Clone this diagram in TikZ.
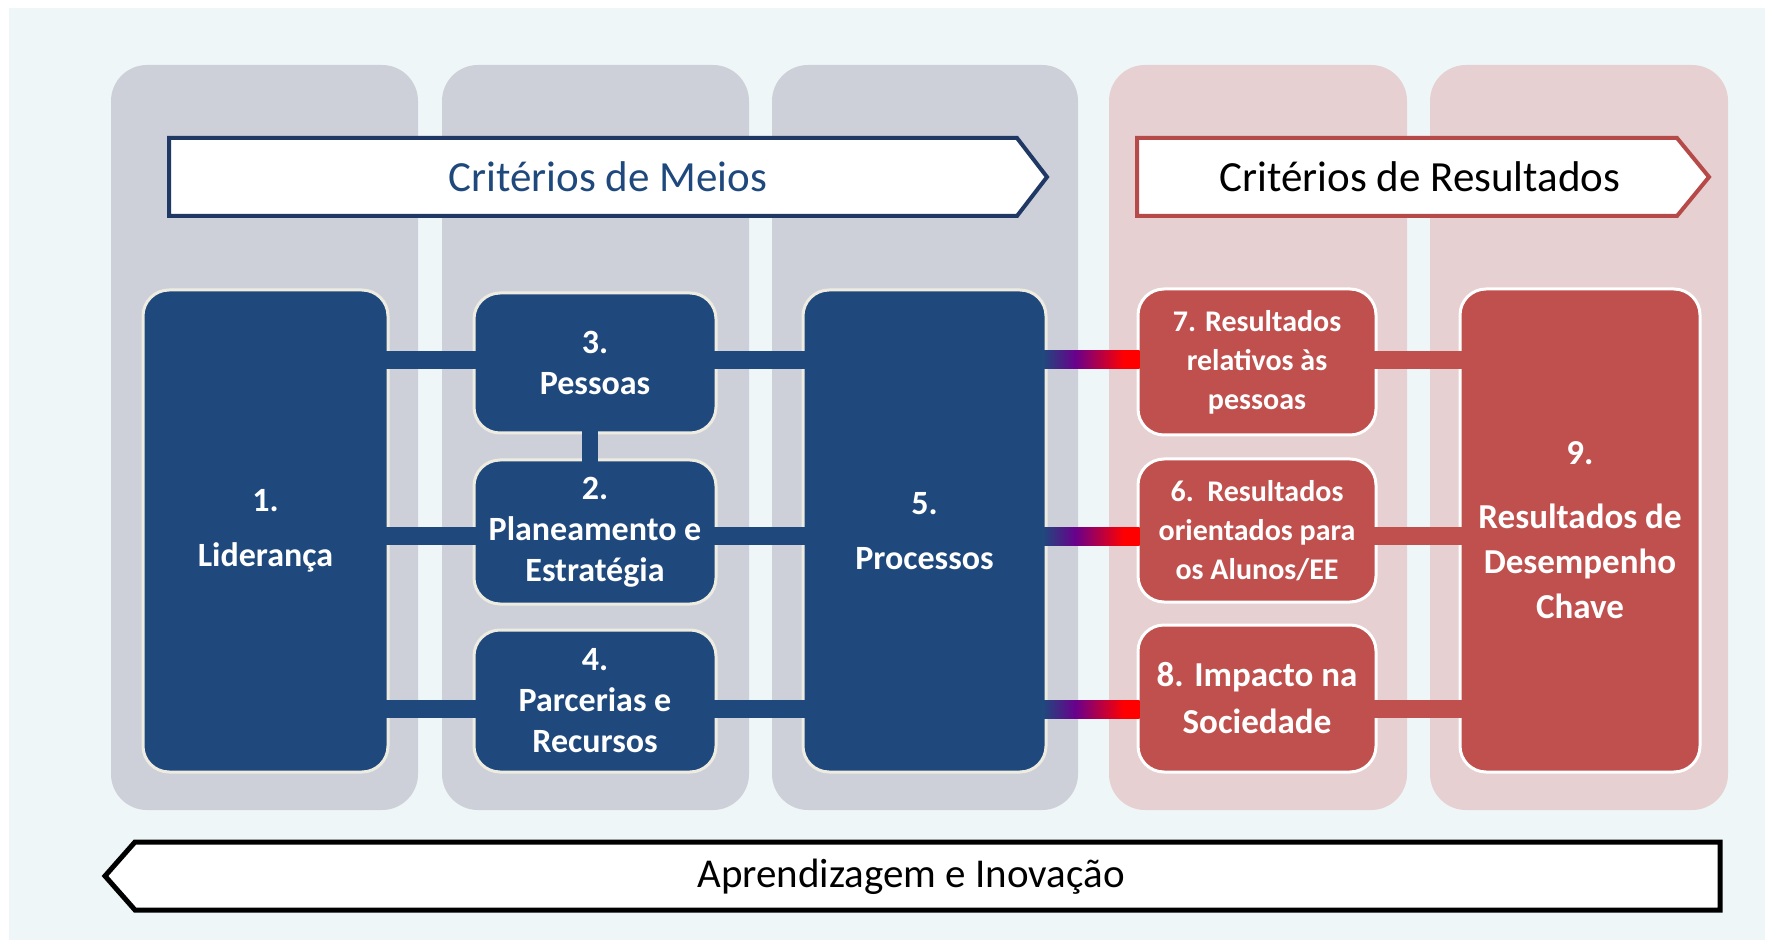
\documentclass[tikz,border=0pt]{standalone}
\usepackage{fontspec}
\setmainfont{Carlito}
\usetikzlibrary{calc}
\definecolor{bgc}{RGB}{238,246,248}
\definecolor{panelg}{RGB}{205,208,217}
\definecolor{panelp}{RGB}{230,208,209}
\definecolor{dblue}{RGB}{31,73,125}
\definecolor{dred}{RGB}{192,80,77}
\definecolor{cream}{RGB}{238,236,225}
\definecolor{navy}{RGB}{31,56,100}
\definecolor{arrred}{RGB}{182,74,72}
\definecolor{cpurple}{RGB}{106,0,140}
\definecolor{cred}{RGB}{255,0,0}
\pgfdeclarehorizontalshading{connshade}{100bp}{color(0bp)=(dblue); color(25bp)=(dblue); color(42bp)=(cpurple); color(67bp)=(cred); color(100bp)=(cred)}
\tikzset{
  panelbox/.style={rounded corners=18pt, inner sep=0pt, minimum height=372.5pt},
  greypanel/.style={panelbox, fill=panelg},
  pinkpanel/.style={panelbox, fill=panelp},
  bluebox/.style={draw=cream, line width=1.5pt, fill=dblue, rounded corners=13pt, text=white,
    font=\bfseries\fontsize{17}{20.5}\selectfont, align=center, inner sep=0pt},
  redbox/.style={draw=white, line width=1.5pt, fill=dred, rounded corners=13pt, text=white,
    font=\bfseries\fontsize{17}{20.5}\selectfont, align=center, inner sep=0pt},
  bconn/.style={draw=dblue, line width=9pt},
  rconn/.style={draw=dred, line width=9pt},
  headtext/.style={inner sep=0pt, font=\fontsize{21.5}{26}\selectfont},
}
\begin{document}
\begin{tikzpicture}[x=0.5pt, y=-0.5pt]
\useasboundingbox (0,0) rectangle (1765,940);
\fill[white] (0,0) rectangle (1765,940);
\fill[bgc] (9,8) rectangle (1765,940);

% panels
\node[greypanel, minimum width=153.5pt] (p1) at (264.5,437.5) {};
\node[greypanel, minimum width=153.5pt] (p2) at (595.5,437.5) {};
\node[greypanel, minimum width=153pt] (p3) at (925,437.5) {};
\node[pinkpanel, minimum width=149pt] (p4) at (1258,437.5) {};
\node[pinkpanel, minimum width=149pt] (p5) at (1579,437.5) {};

% top arrows
\draw[draw=navy, line width=2pt, fill=white] (169,138) -- (1017,138) -- (1047,177) -- (1017,216) -- (169,216) -- cycle;
\node[headtext, text=dblue] (tmeios) at (608,177) {Critérios de Meios};
\draw[draw=arrred, line width=2pt, fill=white] (1137,138) -- (1677,138) -- (1709,177) -- (1677,216) -- (1137,216) -- cycle;
\node[headtext, text=black] (tres) at (1420,177) {Critérios de Resultados};

% boxes
\node[bluebox, minimum width=122.5pt, minimum height=241pt] (b1) at (265.5,531) {1.\\[7pt]Liderança};
\node[bluebox, minimum width=121pt, minimum height=70pt] (b3) at (595,363) {3.\\Pessoas};
\node[bluebox, minimum width=121pt, minimum height=72pt] (b2) at (595,532) {2.\\Planeamento e\\Estratégia};
\node[bluebox, minimum width=121pt, minimum height=71pt] (b4) at (595,701) {4.\\Parcerias e\\Recursos};
\node[bluebox, minimum width=121.5pt, minimum height=241pt] (b5) at (924.5,531) {5.\\[7pt]Processos};
\node[redbox, minimum width=119pt, minimum height=73pt, font=\bfseries\fontsize{15}{19.5}\selectfont] (b7) at (1257,362) {7. Resultados\\relativos às\\pessoas};
\node[redbox, minimum width=119pt, minimum height=71.5pt, font=\bfseries\fontsize{15}{19.5}\selectfont] (b6) at (1257,530.5) {6.\ \ Resultados\\orientados para\\os Alunos/EE};
\node[redbox, minimum width=119pt, minimum height=73.5pt, font=\bfseries\fontsize{17.5}{23.5}\selectfont] (b8) at (1257,698.5) {8. Impacto na\\Sociedade};
\node[redbox, minimum width=120pt, minimum height=241.5pt, font=\bfseries\fontsize{17.5}{22.5}\selectfont] (b9) at (1580,530.5) {9.\\[9.5pt]Resultados de\\Desempenho\\Chave};

% connector rows
\coordinate (ya) at (0,360);
\coordinate (yb) at (0,536);
\coordinate (yc) at (0,709);

\draw[bconn] ([xshift=-2.5pt]b1.east|-ya) -- ([xshift=2.5pt]b3.west|-ya);
\draw[bconn] ([xshift=-2.5pt]b1.east|-yb) -- ([xshift=2.5pt]b2.west|-yb);
\draw[bconn] ([xshift=-2.5pt]b1.east|-yc) -- ([xshift=2.5pt]b4.west|-yc);
\draw[bconn] ([xshift=-2.5pt]b3.east|-ya) -- ([xshift=2.5pt]b5.west|-ya);
\draw[bconn] ([xshift=-2.5pt]b2.east|-yb) -- ([xshift=2.5pt]b5.west|-yb);
\draw[bconn] ([xshift=-2.5pt]b4.east|-yc) -- ([xshift=2.5pt]b5.west|-yc);
\draw[bconn, line width=8pt] ([xshift=-2.5pt,yshift=2.5pt]b3.south) -- ([xshift=-2.5pt,yshift=-2.5pt]b2.north);

\shade[shading=connshade] ($(b5.east|-ya)+(-5,-9)$) rectangle ($(b7.west|-ya)+(3,9)$);
\shade[shading=connshade] ($(b5.east|-yb)+(-5,-9)$) rectangle ($(b6.west|-yb)+(3,9)$);
\shade[shading=connshade] ($(b5.east|-yc)+(-5,-9)$) rectangle ($(b8.west|-yc)+(3,9)$);

\draw[rconn] ([xshift=-2.5pt]b7.east|-ya) -- ([xshift=2.5pt]b9.west|-ya);
\draw[rconn] ([xshift=-2.5pt]b6.east|-yb) -- ([xshift=2.5pt]b9.west|-yb);
\draw[rconn] ([xshift=-2.5pt]b8.east|-yc) -- ([xshift=2.5pt]b9.west|-yc);

% bottom arrow
\draw[line width=2.5pt, fill=white, line join=miter] (135,842) -- (1720,842) -- (1720,910) -- (135,910) -- (105,876) -- cycle;
\node[inner sep=0pt, font=\fontsize{20.5}{25}\selectfont] (tinov) at (911,877) {Aprendizagem e Inovação};
\end{tikzpicture}
\end{document}
